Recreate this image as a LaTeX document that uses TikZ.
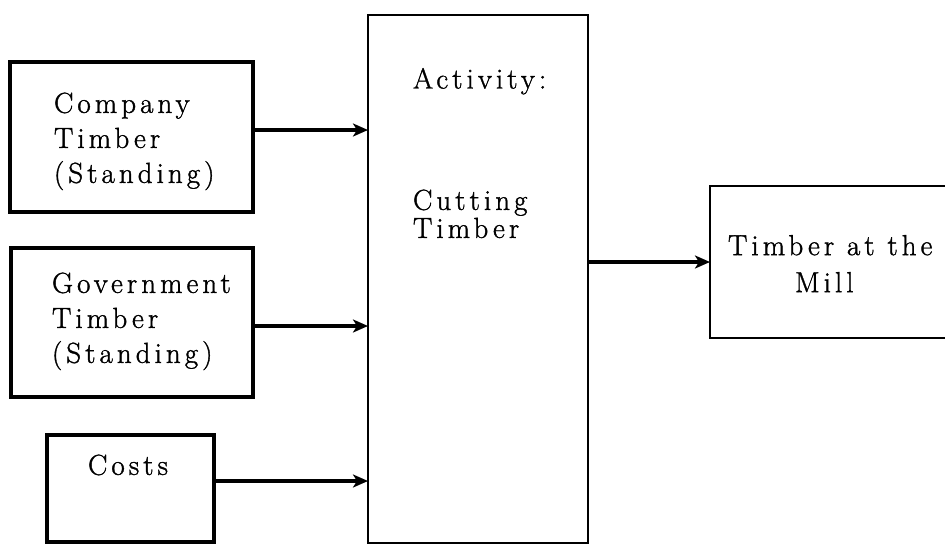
\documentclass[tikz,border=0pt]{standalone}
\usepackage{fontspec}
\newfontfamily\spcfont{Latin Modern Roman}[LetterSpace=14,FakeBold=1.2]
\usetikzlibrary{arrows.meta}
\begin{document}
\begin{tikzpicture}[x=1pt,y=-1pt,
  box/.style={draw,line width=3.2pt,inner sep=0pt,outer sep=0pt},
  txt/.style={inner sep=0pt,outer sep=0pt,anchor=north west,align=left,
    font=\spcfont\fontsize{29}{35}\selectfont},
  arr/.style={line width=3.2pt,-{Stealth[length=15pt,width=13pt,inset=4pt]}}]
\clip (0,0) rectangle (945,546);
\fill[white] (0,0) rectangle (945,546);
% boxes
\node[box,minimum width=243pt,minimum height=150pt] (company) at (131.5,137) {};
\node[box,minimum width=242pt,minimum height=149pt] (gov) at (132,322.5) {};
\node[box,minimum width=167pt,minimum height=107pt] (costs) at (130.5,488.5) {};
\node[box,line width=2.4pt,minimum width=220pt,minimum height=528pt] (act) at (478,279) {};
\node[box,line width=2.8pt,minimum width=250pt,minimum height=152pt] (mill) at (835,262) {};
% texts
\node[txt] (tcompany) at (54,92.6) {Company\\Timber\\(Standing)};
\node[txt] (tgov) at (52,272.6) {Government\\Timber\\(Standing)};
\node[txt] (tcosts) at (88,454.6) {Costs};
\node[txt] (tact) at (413,68) {Activity:};
\node[txt,font=\spcfont\fontsize{29}{28}\selectfont] (tcut) at (413,189.6) {Cutting\\Timber};
\node[txt,font=\spcfont\fontsize{29}{37}\selectfont] (tmill) at (728,235) {Timber at the\\\hspace*{67pt}Mill};
% connectors
\path ([yshift=7pt]company.east) coordinate (c1);
\path ([yshift=-3.5pt]gov.east) coordinate (c2);
\path ([yshift=7.5pt]costs.east) coordinate (c3);
\draw[arr] (c1) -- (c1 -| act.west);
\draw[arr] (c2) -- (c2 -| act.west);
\draw[arr] (c3) -- (c3 -| act.west);
\draw[arr] (act.east |- mill.west) -- (mill.west);
\end{tikzpicture}
\end{document}
